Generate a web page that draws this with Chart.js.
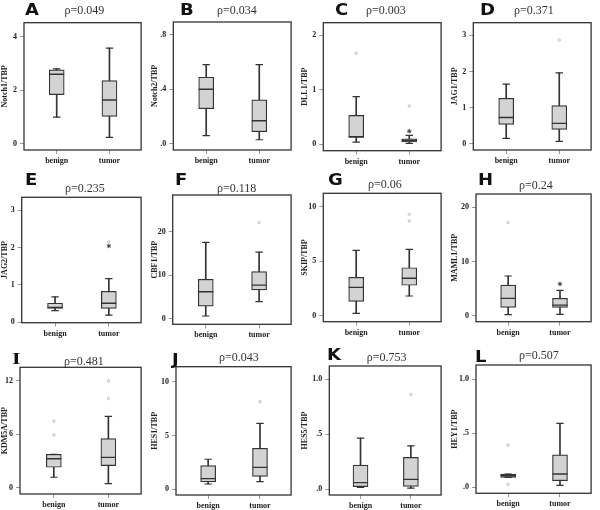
<!DOCTYPE html>
<html><head><meta charset="utf-8">
<script src="https://cdn.jsdelivr.net/npm/chart.js@4.4.0/dist/chart.umd.min.js"></script>
<style>
html,body{margin:0;padding:0;background:#fff;}
#wrap{position:relative;width:600px;height:510px;overflow:hidden;background:#fff;}
canvas{position:absolute;}
.letter{position:absolute;font-family:"DejaVu Sans",sans-serif;font-weight:bold;font-size:15px;line-height:1;transform-origin:0 0;transform:scaleX(1.2);color:#111;white-space:nowrap;}
.letter.serif{font-family:"Liberation Serif",serif;font-size:17px;transform:scaleX(1.3);}
.rho{position:absolute;font-family:"Liberation Serif",serif;font-size:12px;line-height:1;color:#333;transform:translate(-50%,-50%);white-space:nowrap;}
</style></head><body><div id="wrap"></div>
<script>
// ---- data ----
const panelLetters = ['A','B','C','D','E','F','G','H','I','J','K','L'];
const pLabels = ['ρ=0.049','ρ=0.034','ρ=0.003','ρ=0.371','ρ=0.235','ρ=0.118','ρ=0.06','ρ=0.24','ρ=0.481','ρ=0.043','ρ=0.753','ρ=0.507'];
const yTitles = ['Notch1/TBP','Notch2/TBP','DLL1/TBP','JAG1/TBP','JAG2/TBP','CBF1/TBP','SKIP/TBP','MAML1/TBP','KDM5A/TBP','HES1/TBP','HES5/TBP','HEY1/TBP'];
const categories = ['benign','tumor'];
const yTickValues = [[0,2,4],[0,0.4,0.8],[0,1,2],[0,1,2,3],[0,1,2,3],[0,10,20],[0,5,10],[0,10,20],[0,6,12],[0,5,10],[0,0.5,1.0],[0,0.5,1.0]];
const yTickLabels = [['0','2','4'],['.0','.4','.8'],['0','1','2'],['0','1','2','3'],['0','1','2','3'],['0','10','20'],['0','5','10'],['0','10','20'],['0','6','12'],['0','5','10'],['.0','.5','1.0'],['.0','.5','1.0']];
const yMins = [-0.224,-0.044,-0.117,-0.17,-0.01,-1.29,-0.55,-1.05,-0.71,-0.53,-0.052,-0.055];
const yMaxs = [4.52,0.892,2.23,3.35,3.34,28.4,11.23,22.45,13.5,11.39,1.12,1.13];
// [min, q1, median, q3, max]
const benignStats = [
  [1.0,1.84,2.6,2.76,2.8],
  [0.061,0.258,0.40,0.488,0.58],
  [0.042,0.128,0.14,0.53,0.873],
  [0.15,0.54,0.73,1.26,1.65],
  [0.31,0.37,0.40,0.51,0.68],
  [0.62,2.9,6.2,9.05,17.5],
  [0.22,1.32,2.6,3.52,6.0],
  [0.25,1.6,3.25,5.7,7.36],
  [1.17,2.29,3.25,3.74,3.74],
  [0.49,0.68,0.99,2.2,2.79],
  [0.018,0.024,0.06,0.22,0.464],
  [0.092,0.092,0.107,0.123,0.123]
];
const tumorStats = [
  [0.25,1.03,1.64,2.36,3.57],
  [0.031,0.09,0.17,0.322,0.58],
  [0.018,0.042,0.066,0.10,0.165],
  [0.066,0.40,0.565,1.06,1.965],
  [0.19,0.37,0.51,0.83,1.165],
  [3.9,6.6,7.7,10.8,15.3],
  [1.81,2.79,3.43,4.40,6.09],
  [0.3,1.6,2.0,3.25,4.7],
  [0.45,2.47,3.4,5.5,8.0],
  [0.71,1.2,2.04,3.81,6.13],
  [0.01,0.027,0.09,0.29,0.394],
  [0.018,0.061,0.123,0.30,0.59]
];
const benignOutliers = [[],[],[1.67],[],[],[],[],[17.2],[7.45,5.91],[],[],[0.39,0.028]];
const tumorOutliers = [[],[],[0.70],[2.87],[2.15],[22.1],[9.3,8.69],[],[11.97,10.0],[8.14],[0.86],[]];
const benignExtremes = [[],[],[],[],[],[],[],[],[],[],[],[]];
const tumorExtremes = [[],[],[0.24],[],[2.04],[],[],[5.9],[],[],[],[]];

// ---- layout (page pixels) ----
const panelFrames = [
  [24,22.7,147.3,150],[173.3,22,297.3,150],[323.3,22.7,447.3,150.7],[473.3,22.7,597.3,150],
  [21.7,197.3,145.7,322.7],[172.7,195,298.3,324.3],[323.3,193.3,448.3,321.7],[476,194,599,321.7],
  [20,367.3,146.7,494],[176,366.7,297.7,495],[329.3,366,446.7,495],[476,365,598.3,493.3]
];
const letterPos = [[25,5],[180,5],[335,5],[480,5],[25,175],[175,175],[328,175],[478,175],[12,352],[172,355],[327,350],[475,352]];
const rhoPos = [[84.5,10],[237,10],[386,10],[534,10],[85,188.3],[236.7,188.3],[385,184],[536,185],[84,360.7],[239,357.3],[386.7,357.3],[539,355]];

const wrap = document.getElementById('wrap');
const framePlugin = {
  id:'frame',
  afterDatasetsDraw(chart){
    const {ctx, chartArea:a} = chart;
    ctx.save();
    ctx.strokeStyle = '#333';
    ctx.lineWidth = 1.3;
    ctx.strokeRect(a.left, a.top, a.right - a.left, a.bottom - a.top);
    ctx.restore();
  }
};
const tickFont = {family:'"Liberation Serif", serif', size:8, weight:'bold'};

panelLetters.forEach((letter, i) => {
  const ox = (i % 4) * 150, oy = Math.floor(i / 4) * 170;
  const fr = panelFrames[i];
  const canvas = document.createElement('canvas');
  canvas.width = 150; canvas.height = 170;
  canvas.style.left = ox + 'px'; canvas.style.top = oy + 'px';
  wrap.appendChild(canvas);

  const stats = [benignStats[i], tumorStats[i]];
  const outs = [];
  benignOutliers[i].forEach(v => outs.push({x:0, y:v}));
  tumorOutliers[i].forEach(v => outs.push({x:1, y:v}));
  const ext = [];
  benignExtremes[i].forEach(v => ext.push({x:0, y:v}));
  tumorExtremes[i].forEach(v => ext.push({x:1, y:v}));
  const caps = [];
  stats.forEach((s, k) => { caps.push({x:k, y:s[0]}); caps.push({x:k, y:s[4]}); });

  new Chart(canvas, {
    data: {
      datasets: [
        {type:'bar', data: stats.map((s,k)=>({x:k, y:[s[0], s[4]]})), backgroundColor:'#333', borderWidth:0, barThickness:1, grouped:false, order:4},
        {type:'bar', data: stats.map((s,k)=>({x:k, y:[s[1], s[3]]})), backgroundColor:'#d3d3d3', borderColor:'#333', borderWidth:1.2, borderSkipped:false, barThickness:15, grouped:false, order:3},
        {type:'line', showLine:false, data: stats.map((s,k)=>({x:k, y:s[2]})), pointStyle:'line', pointRadius:7.5, pointBorderWidth:1.4, pointBorderColor:'#333', order:2},
        {type:'line', showLine:false, data: caps, pointStyle:'line', pointRadius:3.7, pointBorderWidth:1.2, pointBorderColor:'#333', order:2},
        {type:'line', showLine:false, data: outs, pointStyle:'circle', pointRadius:1.2, pointBorderWidth:0.8, pointBorderColor:'#b0b0b0', pointBackgroundColor:'rgba(0,0,0,0)', order:1},
        {type:'line', showLine:false, data: ext, pointStyle:'star', pointRadius:2.2, pointBorderWidth:1, pointBorderColor:'#444', order:1}
      ]
    },
    options: {
      responsive:false, animation:false, events:[],
      layout:{padding:{left:0, top: fr[1]-oy, right: ox+150-fr[2], bottom:0}},
      plugins:{legend:{display:false}, tooltip:{enabled:false}, title:{display:false}},
      scales:{
        x:{type:'linear', min:-0.62, max:1.6, bounds:'data', offset:false,
           afterBuildTicks: s => { s.ticks = categories.map((c,k)=>({value:k})); },
           afterFit: s => { s.height = oy + 170 - fr[3]; },
           ticks:{callback:(v, idx)=>categories[idx], font:tickFont, color:'#222', padding:2, maxRotation:0, autoSkip:false},
           grid:{drawOnChartArea:false, tickLength:4, color:'#999', lineWidth:1, offset:false},
           border:{display:false}},
        y:{type:'linear', min:yMins[i], max:yMaxs[i], bounds:'data',
           afterBuildTicks: s => { s.ticks = yTickValues[i].map(v=>({value:v})); },
           afterFit: s => { s.width = fr[0] - ox; },
           ticks:{callback:(v, idx)=>yTickLabels[i][idx], font:tickFont, color:'#222', padding:3, autoSkip:false},
           grid:{drawOnChartArea:false, tickLength:4, color:'#999', lineWidth:1},
           border:{display:false},
           title:{display:true, text:yTitles[i], font:tickFont, color:'#222', padding:{top:0, bottom:0}}}
      }
    },
    plugins:[framePlugin]
  });

  const L = document.createElement('div');
  L.className = 'letter' + (letter === 'I' ? ' serif' : '');
  L.textContent = letter;
  L.style.left = letterPos[i][0] + 'px';
  L.style.top = (letterPos[i][1] - 2) + 'px';
  wrap.appendChild(L);

  const R = document.createElement('div');
  R.className = 'rho';
  R.textContent = pLabels[i];
  R.style.left = rhoPos[i][0] + 'px';
  R.style.top = rhoPos[i][1] + 'px';
  wrap.appendChild(R);
});
</script>
</body></html>
